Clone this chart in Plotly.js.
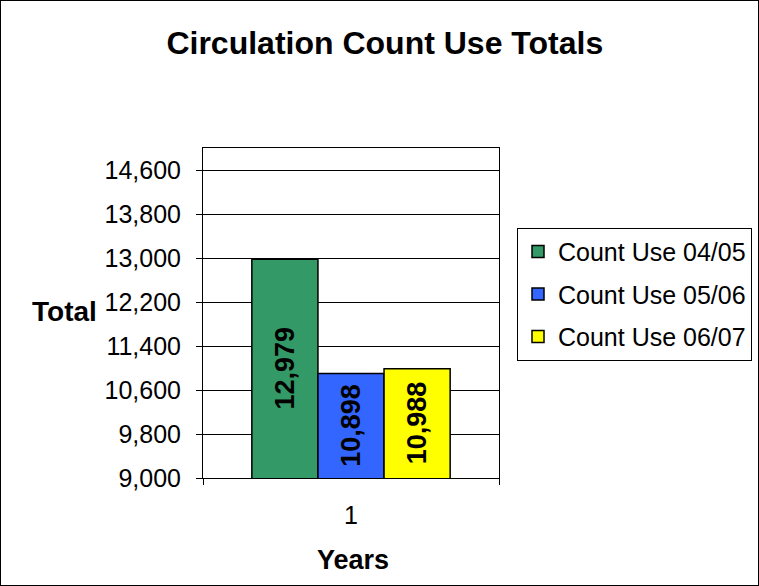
<!DOCTYPE html>
<html>
<head>
<meta charset="utf-8">
<script src="https://cdn.plot.ly/plotly-3.0.1.min.js"></script>
<style>
  body { margin: 0; background: #fff; }
  #plot { width: 757px; height: 584px; border: 1px solid #000; }
</style>
</head>
<body>
<div id="plot"></div>
<script>
// Data
var categories = ["1"];
var seriesNames = ["Count Use 04/05", "Count Use 05/06", "Count Use 06/07"];
var seriesValues = [[12979], [10898], [10988]];
var seriesColors = ["#339966", "#3366FF", "#FFFF00"];
var yMin = 9000, yMax = 15000;

// Build one bar trace per season
var data = seriesNames.map(function (name, i) {
  return {
    x: categories,
    y: seriesValues[i],
    name: name,
    legendgroup: "g" + i,
    type: "bar",
    marker: { color: seriesColors[i], line: { color: "#000", width: 1.5 } },
    hoverinfo: "skip"
  };
});

// Value labels, rotated and centred in each bar
var barPx = 66;
var labels = seriesValues.map(function (vals, i) {
  return {
    x: 0, y: (yMin + vals[0]) / 2,   // x = index of categories[0]
    xref: "x", yref: "y",
    text: "<b>" + vals[0].toLocaleString("en-US") + "</b>",
    textangle: -90, showarrow: false,
    xshift: (i - 1) * barPx,
    font: { size: 27 }
  };
});

var layout = {
  width: 757,
  height: 584,
  margin: { l: 202, r: 259, t: 147, b: 107, autoexpand: false },
  paper_bgcolor: "#fff",
  plot_bgcolor: "#fff",
  font: { family: "Liberation Sans, Arial", size: 25, color: "#000" },
  barmode: "group",
  bargap: 0.33,
  bargroupgap: 0,
  title: {
    text: "<b>Circulation Count Use Totals</b>",
    font: { size: 32 },
    x: 0.507, xanchor: "center",
    y: 1 - 42 / 584, yanchor: "middle"
  },
  xaxis: {
    type: "category",
    showline: true, linecolor: "#000", linewidth: 1, mirror: true,
    ticks: "outside", tickson: "boundaries", ticklen: 6, tickcolor: "#000",
    ticklabelstandoff: 15,
    showgrid: false
  },
  yaxis: {
    range: [yMin, yMax],
    tick0: yMin, dtick: 800,
    tickformat: ",d",
    showline: true, linecolor: "#000", linewidth: 1, mirror: true,
    ticks: "outside", ticklen: 6, tickcolor: "#000",
    ticklabelstandoff: 10,
    gridcolor: "#000", gridwidth: 1,
    zeroline: false
  },
  separators: ".,",
  legend: {
    x: (516 - 202) / 296, xanchor: "left",
    y: 0.758, yanchor: "top",
    bordercolor: "#000", borderwidth: 1,
    font: { size: 25 },
    tracegroupgap: 7,
    itemwidth: 30
  },
  annotations: labels.concat([
    { text: "<b>Total</b>", xref: "paper", yref: "paper",
      x: (63 - 202) / 296, y: 1 - (310 - 147) / 330, showarrow: false,
      font: { size: 28 }, xanchor: "center", yanchor: "middle" },
    { text: "<b>Years</b>", xref: "paper", yref: "paper",
      x: (352 - 202) / 296, y: 1 - (559 - 147) / 330, showarrow: false,
      font: { size: 27 }, xanchor: "center", yanchor: "middle" }
  ])
};

Plotly.newPlot("plot", data, layout, { displayModeBar: false });
</script>
</body>
</html>
